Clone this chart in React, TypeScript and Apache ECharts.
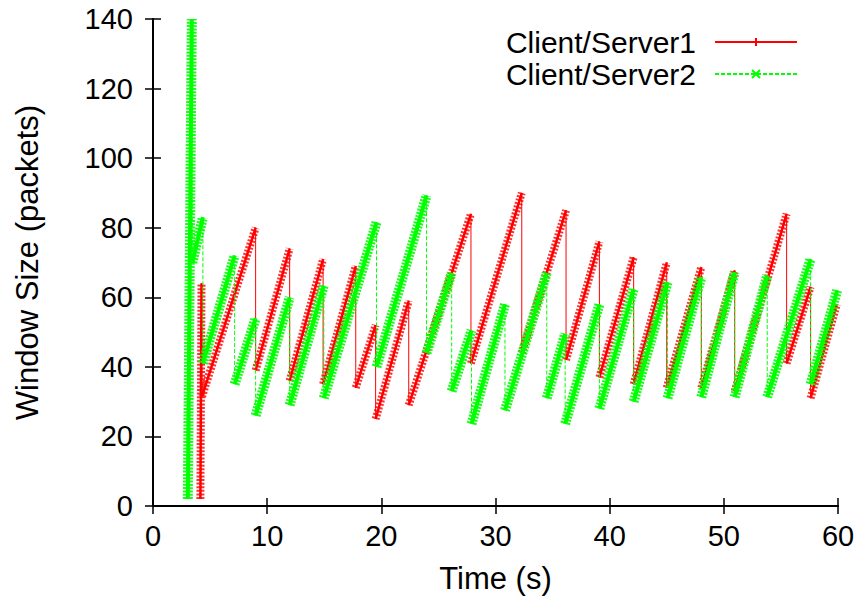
import React, { useEffect, useRef } from "react";
import * as echarts from "echarts";

// Client/Server1 congestion window (red): vertices of the sawtooth (time s, window packets)
const server1Time = [
  4.15, 4.25, 4.3, 8.99, 8.99, 11.97, 11.97, 14.9, 14.9, 17.76, 17.76, 19.5, 19.5, 22.4,
  22.4, 27.85, 27.85, 32.3, 32.3, 36.18, 36.18, 39.1, 39.1, 42.1, 42.1, 45.0, 45.0, 48.03,
  48.03, 50.95, 50.95, 55.5, 55.5, 57.6, 57.6, 59.9,
];
const server1Window = [
  2, 64, 31.5, 80, 39, 74, 36, 71, 35, 69, 34, 52, 25, 59,
  29, 84, 41, 90, 44, 85, 42, 76, 37, 71.5, 35, 70, 34, 68.7,
  34, 67.7, 33, 84, 41, 63, 31, 58,
];

// Client/Server2 congestion window (green)
const server2Time = [
  3.05, 3.4, 3.45, 4.37, 4.37, 7.15, 7.15, 8.99, 8.99, 11.97, 11.97, 14.96, 14.96, 19.58,
  19.58, 23.96, 23.96, 26.16, 26.16, 27.9, 27.9, 30.83, 30.83, 34.49, 34.49, 36.1, 36.1,
  39.1, 39.1, 42.1, 42.1, 45.07, 45.07, 48.03, 48.03, 50.95, 50.95, 53.8, 53.8, 57.6, 57.6,
  59.93,
];
const server2Window = [
  2, 140, 70, 83, 41, 72, 35, 54, 26, 60, 29, 63.4, 31, 81.6,
  40, 89.3, 44, 67, 33, 50.5, 23.6, 58, 27.5, 67, 31, 49.5, 23.6,
  58, 28, 62.4, 30, 64.3, 31, 65.8, 31.3, 67.2, 31.3, 66.3, 31.3, 71, 35,
  62,
];

const seriesNames = ["Client/Server1", "Client/Server2"];
const xRange = { min: 0, max: 60, interval: 10 };
const yRange = { min: 0, max: 140, interval: 20 };
const axisTitles = { x: "Time (s)", y: "Window Size (packets)" };

const FONT = "'Liberation Sans', Arial, Helvetica, sans-serif";
const RED = "#ff0000";
const GREEN = "#00ff00";

function toPoints(t: number[], w: number[]) {
  return t.map((x, i) => [x, w[i]]);
}

// only the rising (marker-dense) segments, separated by gaps
function risingSegments(t: number[], w: number[]) {
  const out: any[] = [];
  for (let i = 0; i < t.length - 1; i++) {
    if (w[i + 1] > w[i]) {
      out.push([t[i], w[i]], [t[i + 1], w[i + 1]], [t[i + 1], null]);
    }
  }
  return out;
}

export default function App() {
  const ref = useRef<HTMLDivElement>(null);

  useEffect(() => {
    if (!ref.current) return;
    const chart = echarts.init(ref.current, null, { renderer: "svg" });

    const axisLine = { show: true, lineStyle: { color: "#000", width: 2 } };
    const axisTick = { show: true, inside: true, length: 8, lineStyle: { color: "#000", width: 1.5 } };
    const label = { color: "#000", fontSize: 29, fontFamily: FONT };

    const p1 = toPoints(server1Time, server1Window);
    const p2 = toPoints(server2Time, server2Window);
    const r1 = risingSegments(server1Time, server1Window);
    const r2 = risingSegments(server2Time, server2Window);

    const plus = "path://M0,5 L10,5 M5,0 L5,10";
    const cross = "path://M0,0 L10,10 M10,0 L0,10";

    chart.setOption({
      animation: false,
      backgroundColor: "#fff",
      grid: { left: 153, right: 22, top: 19, bottom: 97, containLabel: false },
      legend: {
        data: seriesNames,
        orient: "vertical",
        right: 62,
        top: 27,
        padding: 0,
        align: "right",
        itemWidth: 82,
        itemHeight: 10,
        itemGap: 2,
        selectedMode: false,
        textStyle: {
          color: "#000",
          fontSize: 30,
          fontFamily: FONT,
          lineHeight: 28,
          padding: [0, 14, 0, 0],
        },
      },
      xAxis: [
        {
          type: "value",
          min: xRange.min,
          max: xRange.max,
          interval: xRange.interval,
          position: "bottom",
          name: axisTitles.x,
          nameLocation: "middle",
          nameGap: 57,
          nameTextStyle: { color: "#000", fontSize: 31, fontFamily: FONT },
          axisLine,
          axisTick,
          axisLabel: { ...label, margin: 15 },
          splitLine: { show: false },
        },
        {
          type: "value",
          min: xRange.min,
          max: xRange.max,
          interval: xRange.interval,
          position: "top",
          axisLine,
          axisTick,
          axisLabel: { show: false },
          splitLine: { show: false },
        },
      ],
      yAxis: [
        {
          type: "value",
          min: yRange.min,
          max: yRange.max,
          interval: yRange.interval,
          position: "left",
          name: axisTitles.y,
          nameLocation: "middle",
          nameGap: 110,
          nameTextStyle: { color: "#000", fontSize: 31, fontFamily: FONT },
          axisLine,
          axisTick,
          axisLabel: { ...label, margin: 20 },
          splitLine: { show: false },
        },
        {
          type: "value",
          min: yRange.min,
          max: yRange.max,
          interval: yRange.interval,
          position: "right",
          axisLine,
          axisTick,
          axisLabel: { show: false },
          splitLine: { show: false },
        },
      ],
      series: [
        {
          name: seriesNames[0] + " ramps",
          type: "line",
          data: r1,
          symbol: "none",
          silent: true,
          connectNulls: false,
          lineStyle: { color: RED, width: 8, type: [2, 1.6], opacity: 0.8 },
          z: 2,
        },
        {
          name: seriesNames[0] + " core",
          type: "line",
          data: r1,
          symbol: "none",
          silent: true,
          connectNulls: false,
          lineStyle: { color: RED, width: 2.5 },
          z: 2,
        },
        {
          name: seriesNames[0],
          type: "line",
          data: p1,
          symbol: plus,
          symbolSize: 8,
          showSymbol: false,
          silent: true,
          itemStyle: { color: RED, borderColor: RED, borderWidth: 1.5 },
          lineStyle: { color: RED, width: 1 },
          z: 2,
        },
        {
          name: seriesNames[1] + " ramps",
          type: "line",
          data: r2,
          symbol: "none",
          silent: true,
          connectNulls: false,
          lineStyle: { color: GREEN, width: 10, type: [2, 1.3], opacity: 0.9 },
          z: 3,
        },
        {
          name: seriesNames[1] + " core",
          type: "line",
          data: r2,
          symbol: "none",
          silent: true,
          connectNulls: false,
          lineStyle: { color: GREEN, width: 4 },
          z: 3,
        },
        {
          name: seriesNames[1],
          type: "line",
          data: p2,
          symbol: cross,
          symbolSize: 8,
          showSymbol: false,
          silent: true,
          itemStyle: { color: GREEN, borderColor: GREEN, borderWidth: 1.5 },
          lineStyle: { color: GREEN, width: 1, type: [4, 2] },
          z: 3,
        },
      ],
    });

    return () => chart.dispose();
  }, []);

  return (
    <div
      ref={ref}
      style={{ position: "absolute", left: 0, top: 0, width: 860, height: 603 }}
    />
  );
}
